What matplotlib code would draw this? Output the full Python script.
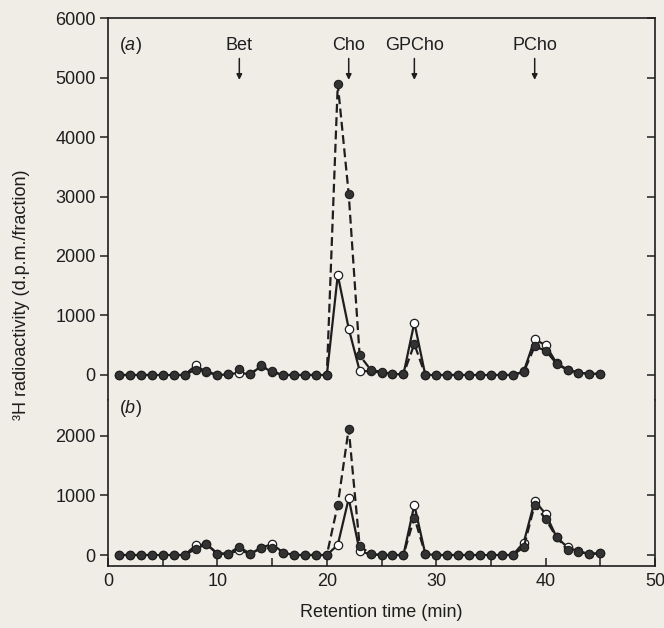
import matplotlib.pyplot as plt

plt.rcParams["font.family"] = ["Liberation Sans", "DejaVu Sans"]
plt.rcParams["mathtext.fontset"] = "custom"
plt.rcParams["mathtext.rm"] = "Liberation Sans"
plt.rcParams["mathtext.it"] = "Liberation Sans:italic"

# retention time of each fraction (min)
time = list(range(1, 46))

# panel (a): open circles / solid line, filled circles / dashed line
a_open = [0, 0, 0, 0, 0, 0, 0, 160, 50, 0, 10, 40, 10, 150, 50,
          0, 0, 0, 0, 0, 1680, 780, 70, 60, 40, 20, 10, 880, 0, 0,
          0, 0, 0, 0, 0, 0, 0, 60, 600, 500, 200, 90, 40, 20, 20]
a_filled = [0, 0, 0, 0, 0, 0, 0, 90, 60, 0, 10, 100, 10, 160, 60,
            0, 0, 0, 0, 0, 4890, 3040, 330, 90, 50, 20, 10, 520, 0, 0,
            0, 0, 0, 0, 0, 0, 0, 50, 480, 410, 190, 80, 40, 20, 20]

# panel (b)
b_open = [0, 0, 0, 0, 0, 0, 0, 160, 180, 20, 20, 80, 20, 120, 185,
          40, 0, 0, 0, 0, 170, 950, 65, 10, 0, 0, 0, 840, 15, 0,
          0, 0, 0, 0, 0, 0, 0, 210, 910, 690, 300, 130, 60, 20, 30]
b_filled = [0, 0, 0, 0, 0, 0, 0, 100, 185, 25, 25, 140, 15, 120, 110,
            40, 0, 0, 0, 0, 845, 2125, 150, 20, 0, 0, 0, 630, 15, 0,
            0, 0, 0, 0, 0, 0, 0, 130, 845, 605, 295, 90, 55, 15, 30]

markers = ["Bet", "Cho", "GPCho", "PCho"]
marker_pos = [12, 22, 28, 39]

bg = "#efede6"
ink = "#1e1e1e"

fig = plt.figure(figsize=(6.64, 6.28), dpi=100, facecolor=bg)
left, width = 0.1627, 0.8238
ax_a = fig.add_axes([left, 0.3631, width, 0.9713 - 0.3631], facecolor=bg)
ax_b = fig.add_axes([left, 0.0987, width, 0.3631 - 0.0987], facecolor=bg)


def draw(ax, open_vals, filled_vals):
    ax.plot(time, open_vals, "-", color=ink, lw=1.6, marker="o", ms=6,
            mfc="white", mec=ink, mew=0.9, zorder=3)
    ax.plot(time, filled_vals, "--", color=ink, lw=1.6, dashes=(4, 2),
            marker="o", ms=6, mfc="#333333", mec=ink, mew=0.8, zorder=4)


draw(ax_a, a_open, a_filled)
draw(ax_b, b_open, b_filled)

ax_a.set_ylim(-420, 6000)
ax_b.set_ylim(-185, 2605)
for ax in (ax_a, ax_b):
    ax.set_xlim(0, 50)
    for s in ax.spines.values():
        s.set_color(ink)
        s.set_linewidth(1.2)
    ax.tick_params(axis="y", which="both", left=True, right=True,
                   direction="out", length=6, width=1.1, colors=ink,
                   labelsize=13, pad=3)
    ax.tick_params(axis="y", which="both", right=True, direction="in")

# y ticks: outward on left, inward on right
ax_a.set_yticks(range(0, 6001, 1000))
ax_b.set_yticks(range(0, 2001, 1000))
for ax in (ax_a, ax_b):
    ax.tick_params(axis="y", left=True, right=False, direction="out")
    sec = ax.secondary_yaxis("right")
    sec.set_yticks(ax.get_yticks())
    sec.tick_params(direction="in", length=6, width=1.1, colors=ink,
                    labelright=False)
    sec.spines["right"].set_visible(False)

ax_a.spines["bottom"].set_visible(False)
ax_a.tick_params(axis="x", bottom=False, labelbottom=False)
ax_b.spines["top"].set_visible(False)

xt = list(range(0, 51, 5))
ax_b.set_xticks(xt)
ax_b.set_xticklabels([str(t) if t % 10 == 0 else "" for t in xt])
ax_b.tick_params(axis="x", direction="in", length=6, width=1.1,
                 colors=ink, labelsize=13, pad=5)

ax_a.text(1.0, 5530, r"($\it{a}$)", fontsize=13, color=ink, va="center")
ax_b.text(1.0, 2470, r"($\it{b}$)", fontsize=13, color=ink, va="center")

for name, pos in zip(markers, marker_pos):
    ax_a.text(pos, 5530, name, fontsize=13, color=ink, ha="center",
              va="center")
    ax_a.annotate("", xy=(pos, 4960), xytext=(pos, 5320),
                  arrowprops=dict(arrowstyle="-|>", color=ink, lw=1.1,
                                  mutation_scale=8, shrinkA=0, shrinkB=0))

fig.text(0.5745, 0.025, "Retention time (min)", fontsize=13, color=ink,
         ha="center", va="center")
fig.text(0.032, 0.53, "³H radioactivity (d.p.m./fraction)", fontsize=13,
         color=ink, rotation=90, ha="center", va="center")

fig.savefig("out.png", dpi=100, facecolor=bg)
